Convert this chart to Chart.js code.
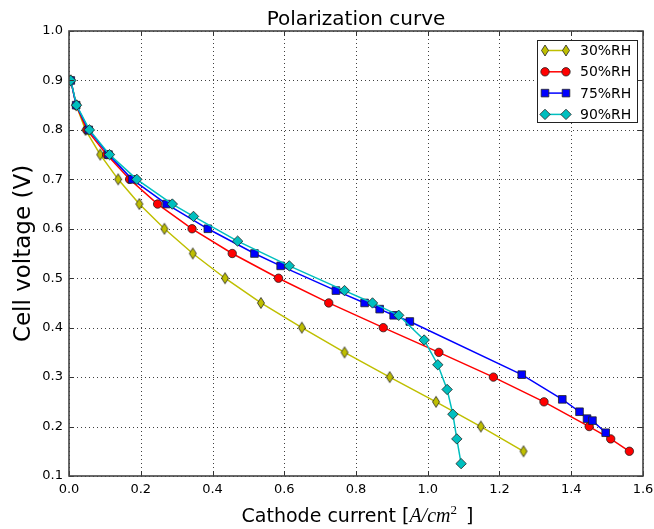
<!DOCTYPE html>
<html>
<head>
<meta charset="utf-8">
<script src="https://cdn.jsdelivr.net/npm/chart.js@4.4.0/dist/chart.umd.min.js"></script>
<style>
  html, body { margin: 0; padding: 0; background: #fff; }
  #wrap { width: 654px; height: 529px; }
</style>
</head>
<body>
<div id="wrap"><canvas id="chart" width="654" height="529"></canvas></div>
<script>
// data
const seriesLabels = ["30%RH", "50%RH", "75%RH", "90%RH"];

const rh30X = [0.005, 0.02, 0.046, 0.087, 0.137, 0.196, 0.266, 0.345, 0.435, 0.535, 0.649, 0.768, 0.894, 1.023, 1.148, 1.267];
const rh30Y = [0.9, 0.85, 0.8, 0.75, 0.7, 0.65, 0.6, 0.55, 0.5, 0.45, 0.4, 0.35, 0.3, 0.25, 0.2, 0.15];

const rh50X = [0.005, 0.02, 0.05, 0.105, 0.169, 0.247, 0.343, 0.455, 0.584, 0.724, 0.876, 1.031, 1.183, 1.324, 1.45, 1.51, 1.562];
const rh50Y = [0.9, 0.85, 0.8, 0.75, 0.7, 0.65, 0.6, 0.55, 0.5, 0.45, 0.4, 0.35, 0.3, 0.25, 0.2, 0.175, 0.15];

const rh75X = [0.005, 0.02, 0.055, 0.11, 0.176, 0.272, 0.387, 0.517, 0.59, 0.744, 0.824, 0.866, 0.905, 0.95, 1.262, 1.375, 1.423, 1.444, 1.459, 1.496];
const rh75Y = [0.9, 0.85, 0.8, 0.75, 0.7, 0.65, 0.6, 0.55, 0.525, 0.475, 0.45, 0.4375, 0.425, 0.4125, 0.305, 0.255, 0.23, 0.216, 0.212, 0.1875];

const rh90X = [0.005, 0.021, 0.057, 0.113, 0.189, 0.288, 0.347, 0.47, 0.614, 0.768, 0.846, 0.919, 0.99, 1.028, 1.054, 1.07, 1.081, 1.093];
const rh90Y = [0.9, 0.85, 0.8, 0.75, 0.7, 0.65, 0.625, 0.575, 0.525, 0.475, 0.45, 0.425, 0.375, 0.325, 0.275, 0.225, 0.175, 0.125];

const xTicks = [0, 0.2, 0.4, 0.6, 0.8, 1.0, 1.2, 1.4, 1.6];
const yTicks = [0.1, 0.2, 0.3, 0.4, 0.5, 0.6, 0.7, 0.8, 0.9, 1.0];

const YELLOW = "#bfbf00";
const RED = "#ff0000";
const BLUE = "#0000ff";
const CYAN = "#00bfbf";

/** 얇은 다이아몬드 마커 (matplotlib 'd') */
function makeThinDiamond(color) {
  const c = document.createElement("canvas");
  c.width = 10;
  c.height = 14;
  const g = c.getContext("2d");
  g.beginPath();
  g.moveTo(5, 1.5);
  g.lineTo(8.5, 7);
  g.lineTo(5, 12.5);
  g.lineTo(1.5, 7);
  g.closePath();
  g.fillStyle = color;
  g.fill();
  g.lineWidth = 0.8;
  g.strokeStyle = "#222";
  g.stroke();
  return c;
}

const thinDiamond = makeThinDiamond(YELLOW);

function toPoints(xs, ys) {
  return xs.map((x, i) => ({ x, y: ys[i] }));
}

function makeSet(label, xs, ys, color, style, radius, order) {
  return {
    label,
    data: toPoints(xs, ys),
    borderColor: color,
    backgroundColor: color,
    borderWidth: 1.5,
    pointStyle: style,
    pointRadius: radius,
    pointHoverRadius: radius,
    pointBackgroundColor: color,
    pointBorderColor: "#222",
    pointBorderWidth: 0.8,
    tension: 0,
    order,
  };
}

function drawMarker(ctx, kind, color, x, y) {
  ctx.save();
  ctx.fillStyle = color;
  ctx.strokeStyle = "#222";
  ctx.lineWidth = 0.8;
  ctx.beginPath();
  if (kind === "thin") {
    ctx.moveTo(x, y - 5.5);
    ctx.lineTo(x + 3.5, y);
    ctx.lineTo(x, y + 5.5);
    ctx.lineTo(x - 3.5, y);
    ctx.closePath();
  } else if (kind === "circle") {
    ctx.arc(x, y, 4.2, 0, Math.PI * 2);
  } else if (kind === "square") {
    ctx.rect(x - 3.8, y - 3.8, 7.6, 7.6);
  } else {
    ctx.moveTo(x, y - 5.2);
    ctx.lineTo(x + 5.2, y);
    ctx.lineTo(x, y + 5.2);
    ctx.lineTo(x - 5.2, y);
    ctx.closePath();
  }
  ctx.fill();
  ctx.stroke();
  ctx.restore();
}

const legendItems = [
  { label: seriesLabels[0], color: YELLOW, kind: "thin" },
  { label: seriesLabels[1], color: RED, kind: "circle" },
  { label: seriesLabels[2], color: BLUE, kind: "square" },
  { label: seriesLabels[3], color: CYAN, kind: "diamond" },
];

const framePlugin = {
  id: "mplFrame",
  beforeDatasetsDraw(chart) {
    const { ctx, chartArea: a, scales } = chart;
    ctx.save();
    ctx.strokeStyle = "rgba(0,0,0,0.75)";
    ctx.lineWidth = 1;
    ctx.setLineDash([1, 3]);
    xTicks.forEach((v) => {
      const px = Math.round(scales.x.getPixelForValue(v)) + 0.5;
      ctx.beginPath();
      ctx.moveTo(px, a.top);
      ctx.lineTo(px, a.bottom);
      ctx.stroke();
    });
    yTicks.forEach((v) => {
      const py = Math.round(scales.y.getPixelForValue(v)) + 0.5;
      ctx.beginPath();
      ctx.moveTo(a.left, py);
      ctx.lineTo(a.right, py);
      ctx.stroke();
    });
    ctx.restore();
  },
  afterDatasetsDraw(chart) {
    const { ctx, chartArea: a, scales } = chart;
    ctx.save();
    // ticks, inward on all four sides
    ctx.strokeStyle = "#333";
    ctx.lineWidth = 1;
    const tl = 5;
    xTicks.forEach((v) => {
      const px = Math.round(scales.x.getPixelForValue(v)) + 0.5;
      ctx.beginPath();
      ctx.moveTo(px, a.bottom);
      ctx.lineTo(px, a.bottom - tl);
      ctx.moveTo(px, a.top);
      ctx.lineTo(px, a.top + tl);
      ctx.stroke();
    });
    yTicks.forEach((v) => {
      const py = Math.round(scales.y.getPixelForValue(v)) + 0.5;
      ctx.beginPath();
      ctx.moveTo(a.left, py);
      ctx.lineTo(a.left + tl, py);
      ctx.moveTo(a.right, py);
      ctx.lineTo(a.right - tl, py);
      ctx.stroke();
    });
    // frame
    ctx.strokeStyle = "#444";
    ctx.lineWidth = 1.6;
    ctx.strokeRect(a.left, a.top, a.right - a.left, a.bottom - a.top);

    // legend
    const bx = 537, by = 40, bw = 100, bh = 82;
    ctx.fillStyle = "#fff";
    ctx.fillRect(bx, by, bw, bh);
    ctx.strokeStyle = "#222";
    ctx.lineWidth = 1;
    ctx.strokeRect(bx + 0.5, by + 0.5, bw, bh);
    ctx.font = '14px "DejaVu Sans"';
    ctx.textBaseline = "middle";
    ctx.textAlign = "left";
    legendItems.forEach((it, i) => {
      const y = 50.5 + i * 21.3;
      ctx.strokeStyle = it.color;
      ctx.lineWidth = 1.5;
      ctx.beginPath();
      ctx.moveTo(545, y);
      ctx.lineTo(566, y);
      ctx.stroke();
      drawMarker(ctx, it.kind, it.color, 545, y);
      drawMarker(ctx, it.kind, it.color, 566, y);
      ctx.fillStyle = "#000";
      ctx.fillText(it.label, 580, y + 1);
    });
    ctx.restore();
  },
  afterDraw(chart) {
    const { ctx, chartArea: a } = chart;
    const cx = (a.left + a.right) / 2;
    ctx.save();
    ctx.fillStyle = "#000";
    // title
    ctx.font = '20px "DejaVu Sans"';
    ctx.textAlign = "center";
    ctx.textBaseline = "alphabetic";
    ctx.fillText("Polarization curve", cx, 25);

    // y label
    ctx.save();
    ctx.translate(24, (a.top + a.bottom) / 2);
    ctx.rotate(-Math.PI / 2);
    ctx.font = '23px "DejaVu Sans"';
    ctx.textBaseline = "middle";
    ctx.fillText("Cell voltage (V)", 0, 0);
    ctx.restore();

    // x label with math part
    const parts = [
      { t: "Cathode current [", f: '19px "DejaVu Sans"', dy: 0 },
      { t: "A/cm", f: 'italic 20px "Liberation Serif"', dy: 0 },
      { t: "2", f: '13px "Liberation Serif"', dy: -8 },
      { t: " ]", f: '19px "DejaVu Sans"', dy: 0 },
    ];
    let total = 0;
    parts.forEach((p) => {
      ctx.font = p.f;
      p.w = ctx.measureText(p.t).width;
      total += p.w;
    });
    let x = cx - total / 2;
    ctx.textAlign = "left";
    parts.forEach((p) => {
      ctx.font = p.f;
      ctx.fillText(p.t, x, 522 + p.dy);
      x += p.w + (p.t === "2" ? 3 : 0);
    });
    ctx.restore();
  },
};

const tickFont = { family: "DejaVu Sans", size: 13 };

const ctx = document.getElementById("chart").getContext("2d");
new Chart(ctx, {
  type: "line",
  data: {
    datasets: [
      makeSet(seriesLabels[0], rh30X, rh30Y, YELLOW, thinDiamond, 5, 4),
      makeSet(seriesLabels[1], rh50X, rh50Y, RED, "circle", 4.2, 3),
      makeSet(seriesLabels[2], rh75X, rh75Y, BLUE, "rect", 5.4, 2),
      makeSet(seriesLabels[3], rh90X, rh90Y, CYAN, "rectRot", 5.2, 1),
    ],
  },
  options: {
    responsive: false,
    animation: false,
    events: [],
    layout: { padding: { top: 31, right: 11, left: 0, bottom: 0 } },
    plugins: {
      legend: { display: false },
      title: { display: false },
      tooltip: { enabled: false },
    },
    scales: {
      x: {
        type: "linear",
        min: 0,
        max: 1.6,
        grid: { display: false, drawTicks: false },
        border: { display: false },
        ticks: {
          stepSize: 0.2,
          padding: 6,
          color: "#000",
          font: tickFont,
          maxRotation: 0,
          callback: (v) => Number(v).toFixed(1),
        },
        afterFit: (s) => {
          s.height = 53;
          s.paddingLeft = 0;
          s.paddingRight = 0;
        },
      },
      y: {
        type: "linear",
        min: 0.1,
        max: 1.0,
        grid: { display: false, drawTicks: false },
        border: { display: false },
        ticks: {
          stepSize: 0.1,
          padding: 6,
          color: "#000",
          font: tickFont,
          callback: (v) => Number(v).toFixed(1),
        },
        afterFit: (s) => {
          s.width = 69;
          s.paddingTop = 0;
          s.paddingBottom = 0;
        },
      },
    },
  },
  plugins: [framePlugin],
});
</script>
</body>
</html>
